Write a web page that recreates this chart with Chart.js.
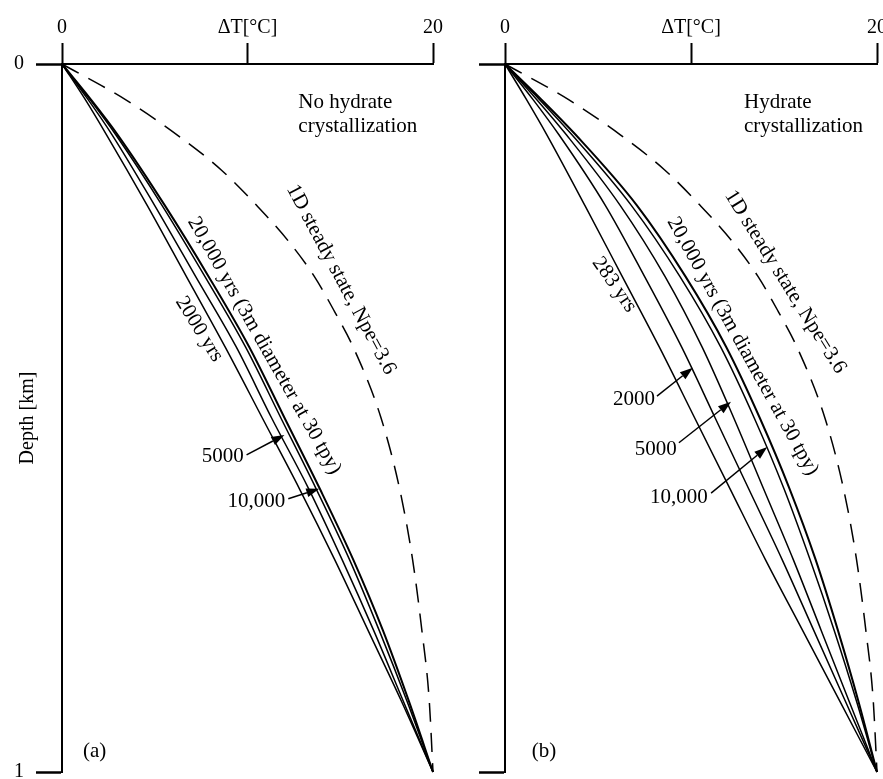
<!DOCTYPE html>
<html>
<head>
<meta charset="utf-8">
<script src="https://cdn.jsdelivr.net/npm/chart.js@4.4.0/dist/chart.umd.min.js"></script>
<style>
  html, body { margin: 0; padding: 0; background: #fff; overflow: hidden; width: 883px; height: 779px; }
  .panel { position: absolute; top: 0; width: 470px; height: 820px; }
  #panelA { left: 0; }
  #panelB { left: 441px; }
</style>
</head>
<body>
<div class="panel" id="panelA"><canvas id="chartA"></canvas></div>
<div class="panel" id="panelB"><canvas id="chartB"></canvas></div>
<script>
// depth [km] and temperature rise dT [degC]
const depthSolid = [0, 0.05, 0.1, 0.2, 0.3, 0.4, 0.5, 0.6, 0.7, 0.8, 0.9, 1.0];
const depthSteady = [0, 0.05, 0.1, 0.15, 0.2, 0.25, 0.3, 0.35, 0.4, 0.5, 0.6, 0.7, 0.8, 0.9, 1.0];
const steadyState = [0, 3.4, 6.2, 8.6, 10.5, 12.2, 13.6, 14.7, 15.7, 17.2, 18.2, 18.9, 19.4, 19.8, 20];

// (a) no hydrate crystallization
const noHyd2000 = [0, 1.25, 2.4, 4.6, 6.7, 8.8, 10.8, 12.8, 14.7, 16.5, 18.3, 20];
const noHyd5000 = [0, 1.4, 2.7, 5.0, 7.2, 9.4, 11.3, 13.3, 15.1, 16.8, 18.4, 20];
const noHyd10000 = [0, 1.5, 2.9, 5.4, 7.7, 9.9, 11.8, 13.7, 15.5, 17.1, 18.6, 20];
const noHyd20000 = [0, 1.55, 3.0, 5.55, 7.9, 10.1, 12.0, 13.9, 15.7, 17.3, 18.7, 20];

// (b) hydrate crystallization
const hyd283 = [0, 1.15, 2.25, 4.3, 6.3, 8.3, 10.2, 12.1, 14.0, 16.0, 18.0, 20];
const hyd2000 = [0, 1.5, 2.9, 5.4, 7.5, 9.5, 11.3, 13.1, 14.9, 16.6, 18.3, 20];
const hyd5000 = [0, 1.7, 3.3, 6.2, 8.6, 10.6, 12.3, 13.9, 15.5, 17.0, 18.5, 20];
const hyd10000 = [0, 1.85, 3.6, 6.8, 9.4, 11.6, 13.4, 15.0, 16.4, 17.7, 18.9, 20];
const hyd20000 = [0, 1.95, 3.8, 7.1, 9.7, 11.9, 13.7, 15.3, 16.7, 17.9, 19.0, 20];

const xTickLabels = ['0', 'ΔT[°C]', '20'];
const yTickLabels = ['0', '1'];

const SERIF = '"Liberation Serif", "Times New Roman", serif';
Chart.defaults.font.family = SERIF;
Chart.defaults.font.size = 20;
Chart.defaults.color = '#000';

function pts(xs, ds) {
    return xs.map((v, i) => ({ x: v, y: ds[i] }));
}

function solid(xs, w) {
    return {
        data: pts(xs, depthSolid),
        borderColor: '#000',
        borderWidth: w || 1.5,
        showLine: true,
        pointRadius: 0,
        cubicInterpolationMode: 'monotone',
        clip: false
    };
}

function steady() {
    return {
        data: pts(steadyState, depthSteady),
        borderColor: '#000',
        borderWidth: 1.5,
        borderDash: [19, 11],
        showLine: true,
        pointRadius: 0,
        cubicInterpolationMode: 'monotone',
        clip: false
    };
}

// text and arrows placed in data units (dT, depth)
const notesPlugin = {
    id: 'notes',
    afterDatasetsDraw(chart, args, opts) {
        const { ctx } = chart;
        const sx = chart.scales.x, sy = chart.scales.y;
        ctx.save();
        ctx.fillStyle = '#000';
        ctx.strokeStyle = '#000';
        ctx.font = '21px ' + SERIF;
        ctx.textAlign = 'left';
        ctx.textBaseline = 'alphabetic';
        (opts.texts || []).forEach(t => {
            ctx.save();
            ctx.translate(sx.getPixelForValue(t.x), sy.getPixelForValue(t.y));
            ctx.rotate((t.angle || 0) * Math.PI / 180);
            ctx.fillText(t.text, 0, 0);
            ctx.restore();
        });
        ctx.lineWidth = 1.5;
        (opts.arrows || []).forEach(a => {
            const x1 = sx.getPixelForValue(a.from[0]), y1 = sy.getPixelForValue(a.from[1]);
            const x2 = sx.getPixelForValue(a.to[0]), y2 = sy.getPixelForValue(a.to[1]);
            const ang = Math.atan2(y2 - y1, x2 - x1);
            const c = Math.cos(ang), s = Math.sin(ang);
            const hl = 13, hw = 4.5;
            ctx.beginPath();
            ctx.moveTo(x1, y1);
            ctx.lineTo(x2 - hl * c, y2 - hl * s);
            ctx.stroke();
            ctx.beginPath();
            ctx.moveTo(x2, y2);
            ctx.lineTo(x2 - hl * c + hw * s, y2 - hl * s - hw * c);
            ctx.lineTo(x2 - hl * c - hw * s, y2 - hl * s + hw * c);
            ctx.closePath();
            ctx.fill();
        });
        ctx.restore();
    }
};

function makeChart(id, datasets, cfg) {
    return new Chart(document.getElementById(id), {
        type: 'scatter',
        data: { datasets: datasets },
        plugins: [notesPlugin],
        options: {
            responsive: true,
            maintainAspectRatio: false,
            animation: false,
            // canvas is taller than the window; bottom padding puts the depth=1 line at y=772
            layout: { padding: { left: 0, top: 0, right: cfg.padRight, bottom: 48 } },
            scales: {
                x: {
                    type: 'linear',
                    position: 'top',
                    min: 0, max: 20,
                    ticks: {
                        stepSize: 10,
                        maxRotation: 0,
                        padding: 3,
                        callback: v => xTickLabels[v / 10]
                    },
                    grid: { drawOnChartArea: false, tickLength: 21, tickWidth: 2, color: '#000' },
                    border: { display: true, color: '#000', width: 2 },
                    afterFit: s => { s.height = 64; }
                },
                y: {
                    type: 'linear',
                    reverse: true,
                    min: 0, max: 1,
                    ticks: {
                        stepSize: 1,
                        padding: 12,
                        callback: v => cfg.yLabels ? yTickLabels[v] : ''
                    },
                    title: {
                        display: !!cfg.yTitle,
                        text: cfg.yTitle || '',
                        padding: { top: 16, bottom: 0 },
                        font: { size: 20 }
                    },
                    grid: { drawOnChartArea: false, tickLength: 26, tickWidth: 2.5, color: '#000' },
                    border: { display: true, color: '#000', width: 2 },
                    afterFit: s => { s.width = cfg.yWidth; }
                }
            },
            plugins: {
                legend: { display: false },
                tooltip: { enabled: false },
                notes: cfg.notes
            }
        }
    });
}

makeChart('chartA', [
    steady(),
    solid(noHyd2000),
    solid(noHyd5000),
    solid(noHyd10000),
    solid(noHyd20000, 2)
], {
    padRight: 37,
    yWidth: 62,
    yLabels: true,
    yTitle: 'Depth [km]',
    notes: {
        texts: [
            { text: 'No hydrate', x: 12.74, y: 0.062 },
            { text: 'crystallization', x: 12.74, y: 0.096 },
            { text: '1D steady state, Npe=3.6', x: 12.1, y: 0.176, angle: 62 },
            { text: '20,000 yrs (3m diameter at 30 tpy)', x: 6.77, y: 0.222, angle: 60.5 },
            { text: '2000 yrs', x: 6.1, y: 0.335, angle: 58 },
            { text: '5000', x: 7.53, y: 0.562 },
            { text: '10,000', x: 8.92, y: 0.626 },
            { text: '(a)', x: 1.13, y: 0.979 }
        ],
        arrows: [
            { from: [9.95, 0.552], to: [11.99, 0.524] },
            { from: [12.2, 0.614], to: [13.87, 0.600] }
        ]
    }
});

makeChart('chartB', [
    steady(),
    solid(hyd283),
    solid(hyd2000),
    solid(hyd5000),
    solid(hyd10000),
    solid(hyd20000, 2)
], {
    padRight: 34,
    yWidth: 64,
    yLabels: false,
    notes: {
        texts: [
            { text: 'Hydrate', x: 12.85, y: 0.062 },
            { text: 'crystallization', x: 12.85, y: 0.096 },
            { text: '1D steady state, Npe=3.6', x: 11.8, y: 0.185, angle: 58 },
            { text: '20,000 yrs (3m diameter at 30 tpy)', x: 8.71, y: 0.222, angle: 61 },
            { text: '283 yrs', x: 4.67, y: 0.28, angle: 55 },
            { text: '2000', x: 5.8, y: 0.482 },
            { text: '5000', x: 6.98, y: 0.552 },
            { text: '10,000', x: 7.79, y: 0.62 },
            { text: '(b)', x: 1.44, y: 0.979 }
        ],
        arrows: [
            { from: [8.17, 0.469], to: [10.1, 0.429] },
            { from: [9.35, 0.535], to: [12.15, 0.477] },
            { from: [11.08, 0.606], to: [14.1, 0.541] }
        ]
    }
});
</script>
</body>
</html>
